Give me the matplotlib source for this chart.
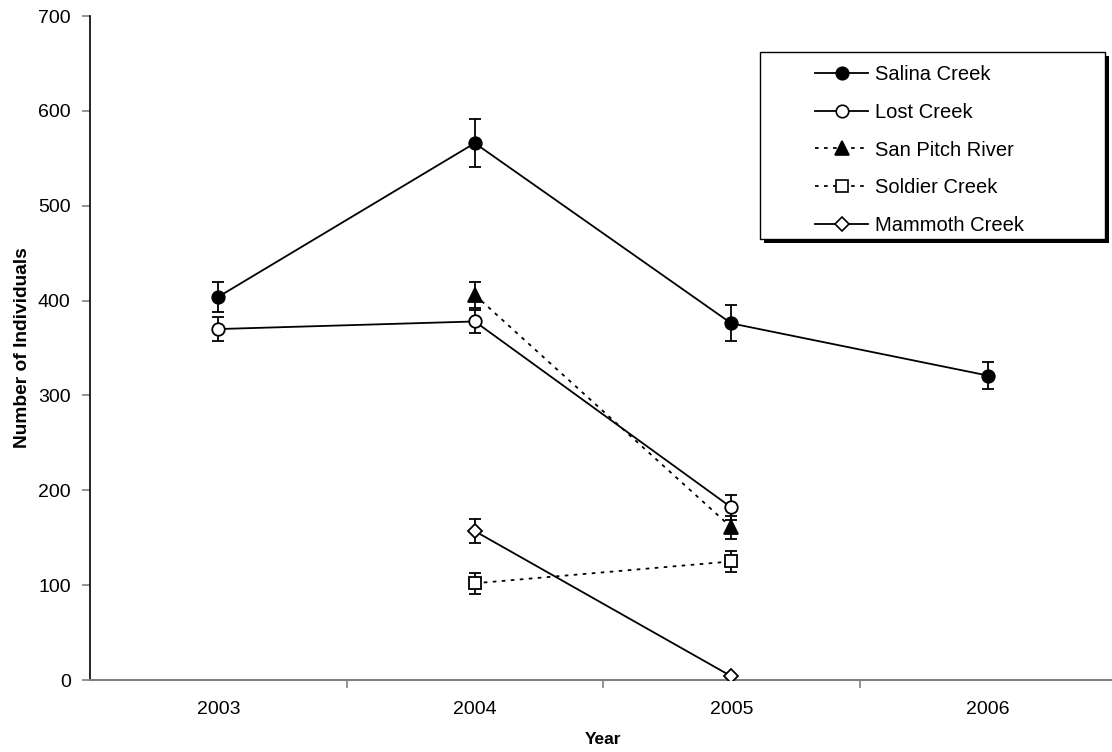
import matplotlib.pyplot as plt
from matplotlib.patches import Rectangle
from matplotlib.lines import Line2D

plt.rcParams['font.family'] = ['Liberation Sans', 'DejaVu Sans']

years = ['2003', '2004', '2005', '2006']

# values (None = no sample that year)
salina = [404, 566, 376, 321]
salina_err = [16, 25, 19, 14]
lost = [370, 378, 182, None]
lost_err = [13, 12, 13, None]
san_pitch = [None, 406, 161, None]
san_pitch_err = [None, 14, 12, None]
soldier = [None, 102, 125, None]
soldier_err = [None, 11, 11, None]
mammoth = [None, 157, 4, None]
mammoth_err = [None, 13, 0, None]

series = [
    ('Salina Creek', salina, salina_err, 'o', 'black', '-'),
    ('Lost Creek', lost, lost_err, 'o', 'white', '-'),
    ('San Pitch River', san_pitch, san_pitch_err, '^', 'black', (0, (2, 3))),
    ('Soldier Creek', soldier, soldier_err, 's', 'white', (0, (2, 3))),
    ('Mammoth Creek', mammoth, mammoth_err, 'D', 'white', '-'),
]
marker_size = {'o': 9, '^': 10, 's': 9, 'D': 7}

fig = plt.figure(figsize=(11.12, 7.52), dpi=100)
ax = fig.add_axes([0.081, 0.0957, 0.9226, 0.883])

handles = []
for name, vals, errs, mk, fc, ls in series:
    xs = [i for i, v in enumerate(vals) if v is not None]
    ys = [vals[i] for i in xs]
    es = [errs[i] for i in xs]
    ms = marker_size[mk]
    ax.errorbar(xs, ys, yerr=es, fmt='none', ecolor='black', elinewidth=1.3,
                capsize=4.3, capthick=1.3, zorder=2)
    ax.plot(xs, ys, color='black', linestyle=ls, linewidth=1.3, marker=mk,
            markersize=ms, markerfacecolor=fc, markeredgecolor='black',
            markeredgewidth=1.3, zorder=3)
    handles.append(Line2D([], [], color='black', linestyle=ls, linewidth=1.3,
                          marker=mk, markersize=ms, markerfacecolor=fc,
                          markeredgecolor='black', markeredgewidth=1.2, label=name))

ax.set_xlim(-0.5, 3.5)
ax.set_ylim(0, 700)
ax.set_yticks(range(0, 701, 100))
ax.set_xticks(range(len(years)))
ax.set_xticklabels(years)
ax.set_xticks([0.5, 1.5, 2.5], minor=True)
ax.tick_params(axis='x', which='major', length=0, pad=15, labelsize=14)
ax.tick_params(axis='x', which='minor', length=6, width=1.2, color='#808080')
ax.tick_params(axis='y', length=6, width=1.2, color='#808080', labelsize=14, pad=8)

for s in ['top', 'right']:
    ax.spines[s].set_visible(False)
ax.spines['left'].set_color('black')
ax.spines['left'].set_linewidth(1.2)
ax.spines['bottom'].set_color('#808080')
ax.spines['bottom'].set_linewidth(1.5)

ax.set_xlabel('Year', fontsize=12.5, fontweight='bold', labelpad=10)
ax.set_ylabel('Number of Individuals', fontsize=13.8, fontweight='bold', labelpad=5)

# legend box with drop shadow
W, H = 1112, 752
bx0, by0, bx1, by1 = 760, 52, 1105, 239
fig.patches.append(Rectangle(((bx0 + 4) / W, 1 - (by1 + 4) / H), (bx1 - bx0) / W, (by1 - by0) / H,
                             transform=fig.transFigure, facecolor='black', edgecolor='none', zorder=5))
fig.patches.append(Rectangle((bx0 / W, 1 - by1 / H), (bx1 - bx0) / W, (by1 - by0) / H,
                             transform=fig.transFigure, facecolor='white', edgecolor='black',
                             linewidth=1.0, zorder=6))
leg = fig.legend(handles=handles, loc='upper left', bbox_to_anchor=(805 / W, 1 - 55 / H),
                 frameon=False, fontsize=14.5, handlelength=2.64, handletextpad=0.35,
                 labelspacing=0.93, borderpad=0)
leg.set_zorder(7)

fig.savefig('out.png', dpi=100)
